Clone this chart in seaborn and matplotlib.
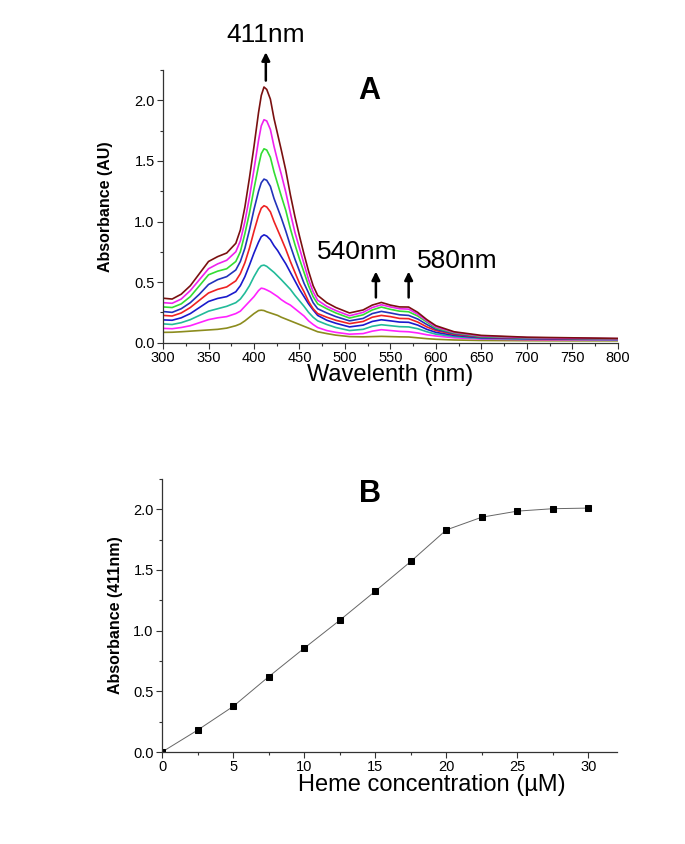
import numpy as np
import pandas as pd
import matplotlib
matplotlib.use("Agg")
import matplotlib.pyplot as plt
import seaborn as sns
from matplotlib.ticker import MultipleLocator

# ---- panel A: absorbance spectra (bottom curve to top curve) ----
wavelength = [300, 310, 320, 330, 340, 350, 360, 370, 380, 385, 390, 395, 400, 405, 408,
              411, 414, 418, 422, 426, 430, 435, 440, 445, 450, 455, 460, 465, 470, 480, 490, 505,
              520, 530, 540, 550, 560, 570, 580, 590, 600, 620, 650, 700, 750, 800]

spec_1 = [0.085, 0.086, 0.09, 0.095, 0.10, 0.105, 0.11, 0.12, 0.14, 0.155, 0.18, 0.21, 0.24, 0.265, 0.268,
          0.265, 0.255, 0.245, 0.235, 0.225, 0.21, 0.195, 0.18, 0.165, 0.15, 0.135, 0.12, 0.105, 0.09, 0.075, 0.062, 0.05,
          0.048, 0.05, 0.052, 0.05, 0.048, 0.047, 0.04, 0.033, 0.028, 0.022, 0.018, 0.016, 0.015, 0.015]
spec_2 = [0.118, 0.115, 0.125, 0.14, 0.165, 0.19, 0.205, 0.215, 0.24, 0.26, 0.30, 0.34, 0.38, 0.43, 0.45,
          0.445, 0.435, 0.42, 0.40, 0.38, 0.355, 0.33, 0.31, 0.28, 0.25, 0.22, 0.18, 0.15, 0.125, 0.10, 0.085, 0.07,
          0.075, 0.095, 0.107, 0.10, 0.093, 0.09, 0.08, 0.065, 0.055, 0.04, 0.03, 0.025, 0.023, 0.022]
spec_3 = [0.155, 0.15, 0.165, 0.19, 0.225, 0.26, 0.28, 0.30, 0.33, 0.36, 0.41, 0.47, 0.545, 0.61, 0.635,
          0.64, 0.63, 0.605, 0.58, 0.55, 0.52, 0.48, 0.44, 0.39, 0.345, 0.30, 0.25, 0.21, 0.18, 0.15, 0.125, 0.10,
          0.11, 0.135, 0.148, 0.14, 0.132, 0.13, 0.115, 0.09, 0.07, 0.05, 0.035, 0.03, 0.027, 0.025]
spec_4 = [0.188, 0.185, 0.205, 0.24, 0.29, 0.34, 0.365, 0.38, 0.42, 0.47, 0.545, 0.64, 0.74, 0.83, 0.875,
          0.89, 0.88, 0.85, 0.80, 0.76, 0.71, 0.65, 0.58, 0.51, 0.44, 0.38, 0.32, 0.27, 0.225, 0.185, 0.16, 0.13,
          0.145, 0.175, 0.189, 0.18, 0.17, 0.168, 0.145, 0.11, 0.085, 0.06, 0.04, 0.033, 0.029, 0.027]
spec_5 = [0.225, 0.22, 0.245, 0.29, 0.35, 0.41, 0.44, 0.46, 0.51, 0.57, 0.66, 0.78, 0.92, 1.05, 1.11,
          1.13, 1.12, 1.08, 1.00, 0.93, 0.86, 0.77, 0.67, 0.58, 0.49, 0.42, 0.34, 0.28, 0.24, 0.21, 0.185, 0.157,
          0.175, 0.21, 0.225, 0.215, 0.20, 0.198, 0.17, 0.13, 0.10, 0.068, 0.045, 0.036, 0.032, 0.029]
spec_6 = [0.257, 0.25, 0.28, 0.33, 0.40, 0.48, 0.52, 0.545, 0.60, 0.67, 0.78, 0.93, 1.10, 1.25, 1.32,
          1.35, 1.34, 1.29, 1.19, 1.11, 1.03, 0.92, 0.80, 0.69, 0.59, 0.49, 0.41, 0.33, 0.28, 0.245, 0.215, 0.18,
          0.20, 0.24, 0.258, 0.245, 0.23, 0.225, 0.195, 0.15, 0.11, 0.075, 0.048, 0.038, 0.033, 0.03]
spec_7 = [0.295, 0.29, 0.32, 0.38, 0.47, 0.56, 0.59, 0.61, 0.67, 0.75, 0.90, 1.07, 1.27, 1.46, 1.56,
          1.60, 1.59, 1.53, 1.41, 1.31, 1.21, 1.09, 0.94, 0.81, 0.69, 0.58, 0.47, 0.38, 0.32, 0.28, 0.245, 0.203,
          0.23, 0.27, 0.294, 0.275, 0.26, 0.255, 0.22, 0.17, 0.12, 0.08, 0.05, 0.04, 0.035, 0.032]
spec_8 = [0.33, 0.325, 0.36, 0.43, 0.52, 0.61, 0.65, 0.68, 0.75, 0.84, 1.00, 1.20, 1.43, 1.67, 1.79,
          1.84, 1.83, 1.76, 1.62, 1.50, 1.39, 1.24, 1.07, 0.91, 0.78, 0.65, 0.52, 0.42, 0.35, 0.30, 0.265, 0.222,
          0.25, 0.29, 0.313, 0.295, 0.28, 0.277, 0.235, 0.18, 0.13, 0.085, 0.055, 0.042, 0.037, 0.033]
spec_9 = [0.367, 0.36, 0.40, 0.47, 0.57, 0.67, 0.71, 0.74, 0.82, 0.93, 1.12, 1.36, 1.62, 1.90, 2.04,
          2.11, 2.09, 2.01, 1.85, 1.72, 1.59, 1.42, 1.22, 1.04, 0.88, 0.73, 0.59, 0.47, 0.39, 0.33, 0.29, 0.245,
          0.27, 0.31, 0.332, 0.31, 0.295, 0.294, 0.25, 0.19, 0.14, 0.09, 0.06, 0.045, 0.04, 0.035]

spectra = [spec_1, spec_2, spec_3, spec_4, spec_5, spec_6, spec_7, spec_8, spec_9]
spec_colors = ["#8c8c1e", "#ff22ff", "#22bb99", "#1a1acc", "#ee2222",
               "#2233bb", "#33dd33", "#ee22ee", "#7a1010"]

# ---- panel B: titration at 411 nm ----
heme_conc = [0, 2.5, 5, 7.5, 10, 12.5, 15, 17.5, 20, 22.5, 25, 27.5, 30]
abs_411 = [0.0, 0.18, 0.375, 0.62, 0.855, 1.085, 1.325, 1.57, 1.83, 1.935, 1.985, 2.005, 2.01]

sns.set_style("ticks")
plt.rcParams["font.family"] = ["Liberation Sans", "DejaVu Sans"]
plt.rcParams["text.color"] = "black"
plt.rcParams["axes.labelcolor"] = "black"
plt.rcParams["xtick.color"] = "black"
plt.rcParams["ytick.color"] = "black"

fig = plt.figure(figsize=(6.85, 8.44), dpi=100)
ax_a = fig.add_axes([0.238, 0.594, 0.664, 0.323])
ax_b = fig.add_axes([0.2365, 0.109, 0.664, 0.3235])

long_rows = []
for i, s in enumerate(spectra):
    for w, v in zip(wavelength, s):
        long_rows.append({"wl": w, "A": v, "curve": f"c{i}"})
df_a = pd.DataFrame(long_rows)
sns.lineplot(data=df_a, x="wl", y="A", hue="curve", palette=spec_colors,
             linewidth=1.2, ax=ax_a, legend=False, sort=False)

df_b = pd.DataFrame({"conc": heme_conc, "abs": abs_411})
sns.lineplot(data=df_b, x="conc", y="abs", ax=ax_b, color="#666666", linewidth=0.7,
             marker="s", markersize=4.8, markerfacecolor="black", markeredgecolor="black")


def style_axis(ax, xmaj, xmin, ymaj, ymin):
    sns.despine(ax=ax)
    for sp in ["left", "bottom"]:
        ax.spines[sp].set_color("#333333")
        ax.spines[sp].set_linewidth(0.9)
    ax.xaxis.set_major_locator(MultipleLocator(xmaj))
    ax.xaxis.set_minor_locator(MultipleLocator(xmin))
    ax.yaxis.set_major_locator(MultipleLocator(ymaj))
    ax.yaxis.set_minor_locator(MultipleLocator(ymin))
    ax.tick_params(which="major", direction="out", length=4, width=0.8,
                   color="#333333", labelsize=10.5, pad=2)
    ax.tick_params(which="minor", direction="out", length=2.5, width=0.8, color="#333333")


ax_a.set_xlim(300, 800)
ax_a.set_ylim(0, 2.25)
style_axis(ax_a, 50, 25, 0.5, 0.25)
ax_a.set_xlabel("Wavelenth (nm)", fontsize=17, labelpad=-1)
ax_a.set_ylabel("Absorbance (AU)", fontsize=11.5, fontweight="bold",
                family=["Liberation Sans Narrow", "Liberation Sans"], labelpad=15)

ax_b.set_xlim(0, 32)
ax_b.set_ylim(0, 2.25)
style_axis(ax_b, 5, 2.5, 0.5, 0.25)
ax_b.set_xticks([0, 5, 10, 15, 20, 25, 30])
ax_b.set_xlabel("Heme concentration (µM)", fontsize=17, labelpad=0)
ax_b.xaxis.label.set_x(0.593)
ax_b.set_ylabel("Absorbance (411nm)", fontsize=11.5, fontweight="bold",
                family=["Liberation Sans Narrow", "Liberation Sans"], labelpad=7)

# annotations, panel A
arrow = dict(arrowstyle="-|>", color="black", lw=1.8, mutation_scale=12)
ax_a.annotate("", xy=(413, 2.42), xytext=(413, 2.14), arrowprops=arrow, annotation_clip=False)
ax_a.text(413, 2.54, "411nm", fontsize=19, ha="center", va="center", clip_on=False)
ax_a.text(527, 2.08, "A", fontsize=22, fontweight="bold", ha="center", va="center")
ax_a.annotate("", xy=(534, 0.61), xytext=(534, 0.35), arrowprops=arrow)
ax_a.annotate("", xy=(570, 0.61), xytext=(570, 0.35), arrowprops=arrow)
ax_a.text(513, 0.75, "540nm", fontsize=19, ha="center", va="center")
ax_a.text(623, 0.67, "580nm", fontsize=19, ha="center", va="center")

ax_b.text(14.6, 2.13, "B", fontsize=22, fontweight="bold", ha="center", va="center")

fig.savefig("out.png", dpi=100)
